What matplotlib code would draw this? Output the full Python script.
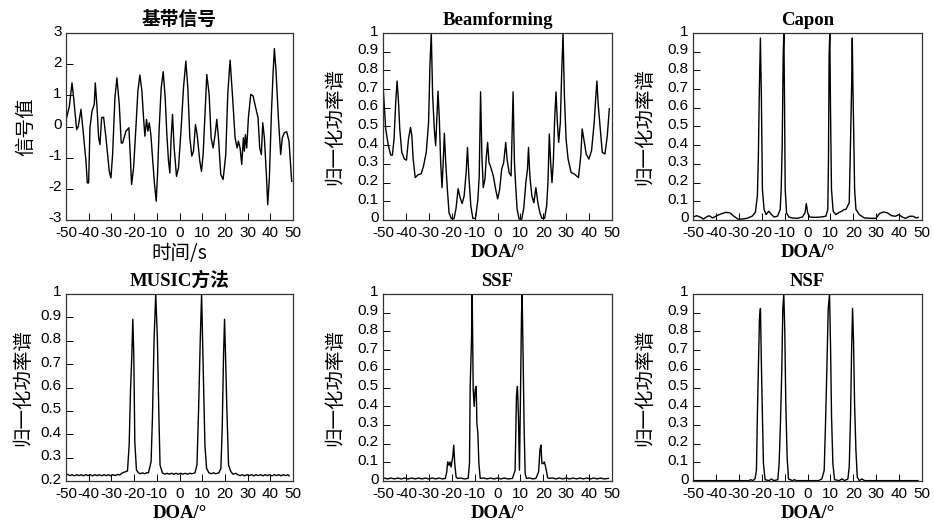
import matplotlib
matplotlib.use("Agg")
import matplotlib.pyplot as plt
import matplotlib.transforms as mtransforms
from matplotlib.ticker import FuncFormatter, MultipleLocator

# ---------------- data ----------------
sig_t = [-49.71, -48.53, -47.36, -46.63, -45.31, -44.57, -43.40, -42.67, -41.20, -40.62, -40.03, -39.44,
         -38.56, -37.54, -37.10, -36.36, -35.63, -35.04, -34.31, -33.43, -32.40, -30.94, -30.21, -29.47,
         -28.45, -27.57, -26.54, -25.66, -25.07, -23.61, -22.29, -21.70, -21.11, -20.23, -19.21, -18.33,
         -17.45, -16.57, -15.84, -15.25, -14.52, -13.93, -13.34, -12.61, -11.88, -11.00, -10.26, -9.68,
         -8.94, -8.06, -7.18, -6.30, -5.57, -4.84, -4.25, -3.67, -3.08, -2.35, -1.32, -0.44, 0.73, 1.76,
         2.79, 3.67, 4.55, 5.43, 6.16, 7.04, 7.77, 8.94, 9.68, 10.41, 11.29, 12.02, 13.05, 13.93, 14.81,
         15.69, 16.42, 17.16, 18.18, 19.21, 20.38, 21.26, 22.29, 23.31, 24.49, 25.37, 25.95, 26.69, 27.42,
         28.15, 28.59, 29.03, 29.62, 30.35, 31.38, 32.40, 33.58, 34.60, 35.34, 36.07, 36.66, 37.39, 38.27,
         38.86, 39.59, 40.47, 41.20, 41.79, 42.52, 43.55, 44.57, 45.31, 46.19, 47.21, 48.24, 48.83, 49.41]
sig_v = [0.28, 0.65, 1.40, 0.92, -0.10, 0.01, 0.55, 0.01, -1.11, -1.81, -1.81, -0.04,
         0.49, 0.71, 1.40, 0.65, -0.36, -0.58, 0.28, 0.30, -0.36, -1.44, -1.65, -0.90,
         0.92, 1.56, 0.71, -0.53, -0.53, -0.15, -0.04, -0.90, -1.86, -1.33, -0.04, 1.14,
         1.65, 1.14, 0.28, -0.31, 0.23, -0.15, 0.12, -0.26, -1.01, -1.86, -2.40, -1.54,
         -0.04, 1.24, 1.76, 0.92, -0.26, -1.11, -1.49, -0.36, 0.39, -0.69, -1.60, -1.33, -0.04, 1.24,
         2.10, 1.24, -0.36, -0.95, -0.79, 0.06, -0.26, -1.11, -1.44, -0.90, 0.49, 1.67, 1.03, -0.36, -0.69,
         -0.26, 0.23, -0.36, -1.54, -1.70, -0.90, 1.03, 2.13, 1.03, -0.36, -0.69, -0.47, -0.69, -1.22,
         -0.36, -0.79, -0.26, -0.69, 0.28, 1.03, 0.98, 0.60, 0.28, -0.69, -0.90, 0.12, -0.36, -1.54,
         -2.51, -1.65, 0.39, 1.67, 2.50, 1.78, 0.28, -0.90, -0.36, -0.20, -0.17, -0.47, -1.11, -1.76]

bf_doa = [-49.85, -48.83, -47.66, -46.63, -45.90, -45.17, -44.44, -43.85, -43.27, -42.68, -41.80, -40.63,
          -39.75, -38.87, -37.99, -37.41, -36.82, -35.94, -34.77, -33.31, -32.28, -31.11, -30.09, -29.50,
          -28.92, -28.33, -27.60, -27.01, -26.43, -25.99, -25.40, -24.82, -24.23, -23.65, -23.21, -22.62,
          -21.89, -21.16, -20.13, -18.96, -18.08, -17.20, -16.32, -15.45, -14.57, -13.69, -13.10, -12.52,
          -11.64, -10.76, -9.59, -8.57, -7.98, -7.39, -6.81, -6.22, -5.49, -4.90, -4.32, -3.73, -3.15,
          -1.83, -0.81, 0.07, 0.95, 1.83, 2.71, 3.59, 4.17, 5.05, 5.93, 6.81, 7.39, 7.98, 8.57, 9.44,
          10.61, 11.49, 12.37, 13.10, 13.54, 14.13, 15.01, 15.89, 16.76, 17.64, 18.52, 19.40, 20.57, 21.45,
          22.04, 22.62, 23.21, 23.79, 24.38, 24.96, 25.55, 26.13, 26.72, 27.45, 28.04, 28.62, 29.21, 29.94,
          30.82, 32.14, 33.60, 35.36, 36.38, 36.97, 37.70, 38.73, 39.90, 41.07, 42.24, 42.83, 43.41, 44.00,
          44.88, 45.75, 46.93, 47.95, 48.83]
bf_pow = [0.694, 0.488, 0.397, 0.347, 0.347, 0.433, 0.631, 0.743, 0.640, 0.487, 0.362, 0.326,
          0.320, 0.433, 0.495, 0.451, 0.326, 0.227, 0.241, 0.248, 0.290, 0.362, 0.523, 0.829,
          1.0, 0.667, 0.487, 0.397, 0.559, 0.689, 0.541, 0.308, 0.173, 0.326, 0.464, 0.308,
          0.164, 0.038, 0.007, 0.007, 0.065, 0.167, 0.119, 0.088, 0.128, 0.254, 0.388, 0.236,
          0.074, 0.009, 0.009, 0.110, 0.236, 0.685, 0.344, 0.173, 0.218, 0.335, 0.415, 0.308, 0.290,
          0.236, 0.164, 0.113, 0.164, 0.272, 0.308, 0.415, 0.326, 0.254, 0.236, 0.685, 0.308, 0.173, 0.056, 0.005,
          0.005, 0.065, 0.200, 0.272, 0.388, 0.236, 0.128, 0.092, 0.173, 0.092, 0.038, 0.009, 0.009, 0.074,
          0.200, 0.460, 0.308, 0.200, 0.308, 0.541, 0.685, 0.523, 0.415, 0.523, 0.793, 1.0, 0.667, 0.433,
          0.326, 0.254, 0.245, 0.227, 0.344, 0.487, 0.433, 0.353, 0.326, 0.371, 0.523, 0.640, 0.743, 0.613,
          0.487, 0.362, 0.353, 0.451, 0.595]

capon_doa = [-49.85, -48.39, -46.93, -45.46, -44.44, -42.97, -41.51, -40.04, -38.87, -37.41, -35.65, -33.89,
             -32.14, -30.38, -28.62, -26.43, -24.23, -22.77, -21.89, -21.45, -21.01, -20.57, -20.13, -19.69,
             -18.96, -18.08, -16.91, -15.74, -14.57, -13.10, -11.93, -11.49, -11.05, -10.61, -10.32, -10.03,
             -9.74, -9.15, -8.13, -6.66, -4.47, -2.27, -1.10, -0.51, 0.07, 0.95, 3.29, 5.78, 7.98, 8.86,
             9.15, 9.44, 9.74, 10.03, 10.47, 11.20, 12.37, 13.84, 15.01, 15.89, 16.76, 18.23, 18.81, 19.25,
             19.55, 19.84, 20.13, 20.57, 21.16, 22.62, 24.82, 27.75, 29.94, 31.41, 33.16, 34.92, 36.68, 38.43,
             39.90, 41.36, 42.83, 44.58, 46.05, 47.51, 48.39]
capon_pow = [0.016, 0.023, 0.016, 0.005, 0.014, 0.023, 0.011, 0.020, 0.027, 0.034, 0.041, 0.038,
             0.020, 0.005, 0.005, 0.009, 0.020, 0.041, 0.128, 0.344, 0.703, 0.973, 0.649, 0.164,
             0.056, 0.029, 0.047, 0.029, 0.016, 0.020, 0.056, 0.164, 0.397, 0.883, 1.0, 0.631,
             0.164, 0.038, 0.016, 0.011, 0.009, 0.016, 0.038, 0.088, 0.038, 0.016, 0.014, 0.016, 0.020, 0.056,
             0.308, 0.883, 1.0, 0.613, 0.164, 0.047, 0.029, 0.041, 0.047, 0.056, 0.056, 0.092, 0.433, 0.703,
             0.973, 0.703, 0.505, 0.164, 0.056, 0.029, 0.011, 0.009, 0.009, 0.034, 0.043, 0.038, 0.023, 0.020,
             0.029, 0.016, 0.009, 0.020, 0.020, 0.011, 0.014]

music_doa = [-49.3, -48.3, -47.3, -46.3, -45.3, -44.3, -43.3, -42.3, -41.3, -40.3,
             -39.3, -38.3, -37.3, -36.3, -35.3, -34.3, -33.3, -32.3, -31.3, -30.3,
             -29.3, -28.3, -27.3, -26.3, -25.11, -22.91, -22.18, -21.60, -21.01, -20.57,
             -20.13, -19.69, -18.96, -18.08, -17.2, -16.33, -15.4, -14.5, -13.69, -12.52,
             -11.93, -11.20, -10.47, -9.74, -9.15, -8.57, -7.54, -6.5, -5.5, -4.5,
             -3.5, -2.5, -1.5, -0.5, 0.5, 1.5, 2.5, 3.5, 4.5, 5.5,
             6.81, 7.69, 8.42, 9.15, 9.74, 10.32, 11.20, 11.93, 12.96, 14.0,
             15.0, 16.0, 17.35, 18.23, 18.81, 19.40, 19.84, 20.28, 20.86, 21.60,
             22.62, 23.6, 24.67, 25.7, 26.7, 27.7, 28.7, 29.7, 30.7, 31.7,
             32.7, 33.7, 34.7, 35.7, 36.7, 37.7, 38.7, 39.7, 40.7, 41.7,
             42.7, 43.7, 44.7, 45.7, 46.7, 47.7, 48.3]
music_pow = [0.228, 0.223, 0.227, 0.222, 0.227, 0.223, 0.227, 0.222, 0.227, 0.223,
             0.227, 0.222, 0.227, 0.223, 0.227, 0.222, 0.227, 0.223, 0.227, 0.222,
             0.227, 0.223, 0.228, 0.226, 0.235, 0.243, 0.353, 0.580, 0.736, 0.892,
             0.736, 0.367, 0.247, 0.235, 0.231, 0.235, 0.231, 0.235, 0.235, 0.282,
             0.467, 0.807, 1.0, 0.807, 0.509, 0.268, 0.235, 0.229, 0.233, 0.229,
             0.233, 0.229, 0.233, 0.229, 0.233, 0.229, 0.233, 0.229, 0.233, 0.231,
             0.235, 0.268, 0.509, 0.807, 1.0, 0.736, 0.353, 0.254, 0.235, 0.231,
             0.235, 0.231, 0.235, 0.254, 0.424, 0.736, 0.892, 0.736, 0.509, 0.268,
             0.240, 0.229, 0.233, 0.227, 0.223, 0.227, 0.222, 0.227, 0.223, 0.227,
             0.222, 0.227, 0.223, 0.227, 0.222, 0.227, 0.223, 0.227, 0.222, 0.227,
             0.223, 0.227, 0.222, 0.227, 0.223, 0.227, 0.222]

ssf_doa = [-49.5, -48.0, -46.5, -45.0, -43.5, -42.0, -40.5, -39.0, -37.5, -36.0, -34.5, -33.0, -31.5,
           -30.0, -28.5, -27.0, -25.5, -24.0, -22.77, -22.18, -21.74, -21.16, -20.72, -20.28, -19.55, -19.11,
           -18.67, -18.08, -17.50, -16.0, -14.5, -12.81, -12.23, -11.93, -11.35, -11.05, -10.61, -10.18,
           -9.74, -9.30, -9.00, -8.57, -8.13, -7.54, -6.0, -4.5, -3.0, -1.5, 0.0, 1.5, 3.0, 4.5, 6.52,
           7.69, 8.27, 8.71, 9.15, 9.59, 10.03, 10.47, 10.76, 11.20, 11.64, 12.08, 12.66, 14.0, 15.5, 16.76,
           17.94, 18.52, 18.96, 19.40, 19.99, 20.42, 20.86, 21.30, 21.89, 22.62, 24.0, 25.5, 27.0, 28.5,
           30.0, 31.5, 33.0, 34.5, 36.0, 37.5, 39.0, 40.5, 42.0, 43.5, 45.0, 46.5, 48.4]
ssf_pow = [0.016, 0.011, 0.016, 0.011, 0.016, 0.011, 0.016, 0.011, 0.016, 0.011, 0.016, 0.011, 0.016,
           0.011, 0.016, 0.011, 0.016, 0.011, 0.014, 0.048, 0.102, 0.084, 0.102, 0.075, 0.129, 0.192,
           0.093, 0.022, 0.014, 0.016, 0.011, 0.014, 0.093, 0.506, 0.758, 1.0, 0.488, 0.399,
           0.488, 0.506, 0.309, 0.255, 0.093, 0.014, 0.016, 0.011, 0.016, 0.011, 0.016, 0.011, 0.016, 0.011, 0.014,
           0.057, 0.452, 0.506, 0.345, 0.057, 0.452, 0.883, 1.0, 0.650, 0.273, 0.039, 0.014, 0.016, 0.011, 0.014,
           0.048, 0.165, 0.192, 0.093, 0.093, 0.102, 0.084, 0.057, 0.018, 0.014, 0.016, 0.011, 0.016, 0.011,
           0.016, 0.011, 0.016, 0.011, 0.016, 0.011, 0.016, 0.011, 0.016, 0.011, 0.016, 0.011, 0.014]

nsf_doa = [-49.56, -25.51, -24.78, -23.76, -22.89, -22.30, -21.87, -21.43, -20.99, -20.55, -20.12, -19.68,
           -19.24, -18.51, -16.76, -15.74, -14.72, -12.97, -12.39, -11.81, -11.22, -10.79, -10.35, -9.91,
           -9.48, -8.89, -8.31, -6.56, -5.69, -4.81, 4.81, 6.27, 7.29, 7.87, 8.45, 9.04, 9.62, 10.06,
           10.50, 11.08, 11.81, 13.85, 15.01, 16.18, 17.64, 18.22, 18.80, 19.24, 19.68, 20.12, 20.55,
           21.14, 21.72, 22.59, 23.76, 24.93, 48.25]
nsf_pow = [0.002, 0.002, 0.007, 0.002, 0.013, 0.057, 0.363, 0.614, 0.865, 0.923, 0.614, 0.345,
           0.093, 0.007, 0.002, 0.011, 0.002, 0.007, 0.093, 0.309, 0.596, 0.919, 1.0, 0.794,
           0.417, 0.129, 0.011, 0.002, 0.007, 0.002, 0.002, 0.011, 0.057, 0.309, 0.596, 0.919, 1.0, 0.722,
           0.345, 0.093, 0.007, 0.002, 0.011, 0.002, 0.011, 0.075, 0.345, 0.686, 0.923, 0.740, 0.417,
           0.165, 0.022, 0.002, 0.011, 0.002, 0.002]

titles = ["基带信号", "Beamforming", "Capon", "MUSIC方法", "SSF", "NSF"]
x_labels = ["时间/s", "DOA/°", "DOA/°", "DOA/°", "DOA/°", "DOA/°"]
y_labels = ["信号值", "归一化功率谱", "归一化功率谱", "归一化功率谱", "归一化功率谱", "归一化功率谱"]
x_ticks = [-50, -40, -30, -20, -10, 0, 10, 20, 30, 40, 50]

# ---------------- figure ----------------
tick_family = ['Liberation Sans Narrow', 'Liberation Sans', 'Noto Sans CJK SC']
plt.rcParams['font.family'] = tick_family
fig = plt.figure(figsize=(9.34, 5.26), dpi=100)

W, H = 934.0, 526.0
boxes = [(66, 33, 227, 187), (383, 33, 229, 187), (693, 33, 229, 187),
         (66, 294, 227, 187), (383, 294, 229, 187), (693, 294, 229, 187)]
series = [(sig_t, sig_v), (bf_doa, bf_pow), (capon_doa, capon_pow),
          (music_doa, music_pow), (ssf_doa, ssf_pow), (nsf_doa, nsf_pow)]
ylims = [(-3, 3), (0, 1), (0, 1), (0.2, 1), (0, 1), (0, 1)]
ysteps = [1, 0.1, 0.1, 0.1, 0.1, 0.1]
title_font = dict(family=['Liberation Serif', 'Noto Sans CJK SC'], weight='bold', size=13.5)
cjk_font = dict(family=['Noto Sans CJK SC', 'Liberation Serif'], size=14)
xlab_font = dict(family=['Liberation Serif', 'Noto Sans CJK SC'], weight='bold', size=13.5)
up_shift = mtransforms.ScaledTranslation(0, 3 / 100.0, fig.dpi_scale_trans)

for i, (l, t, w, h) in enumerate(boxes):
    ax = fig.add_axes([l / W, 1 - (t + h) / H, w / W, h / H])
    x, y = series[i]
    ax.plot(x, y, color='black', lw=1.0)
    ax.set_xlim(-50, 50)
    ax.set_ylim(*ylims[i])
    ax.set_xticks(x_ticks)
    ax.yaxis.set_major_locator(MultipleLocator(ysteps[i]))
    ax.yaxis.set_major_formatter(FuncFormatter(lambda v, p: f"{round(v, 2):g}"))
    ax.xaxis.set_major_formatter(FuncFormatter(lambda v, p: f"{int(round(v))}"))
    ax.tick_params(direction='in', length=5, width=0.7, colors='black', labelsize=11,
                   top=False, right=False)
    ax.tick_params(axis='x', pad=4.5)
    ax.tick_params(axis='y', pad=3)
    for s in ax.spines.values():
        s.set_linewidth(0.9)
        s.set_color('#333333')
    ax.set_title(titles[i], fontdict=title_font, pad=6)
    if i == 0:
        ax.set_xlabel(x_labels[i], fontdict=cjk_font, labelpad=2)
    else:
        ax.set_xlabel(x_labels[i], fontdict=xlab_font, labelpad=3)
    ax.set_ylabel(y_labels[i], fontdict=cjk_font)
    ax.yaxis.set_label_coords(-0.13 if i == 0 else (-0.145 if i == 3 else -0.165), 0.5)
    fig.canvas.draw()
    for lab in ax.get_yticklabels():
        lab.set_transform(lab.get_transform() + up_shift)

fig.savefig("out.png", dpi=100)
